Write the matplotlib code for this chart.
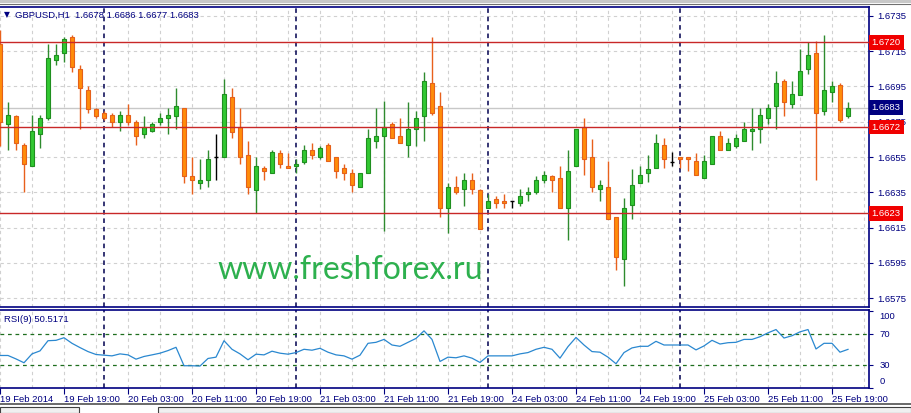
import numpy as np
import matplotlib.pyplot as plt
from matplotlib.patches import Rectangle
from matplotlib.lines import Line2D
from matplotlib.transforms import blended_transform_factory

plt.rcParams['font.family'] = ['Liberation Sans', 'DejaVu Sans']

# GBPUSD H1, 19 Feb 2014 11:00 .. 25 Feb 2014 21:00 (one entry per hour bar)
opens = [1.6719, 1.6674, 1.6678, 1.6662, 1.6650, 1.6668, 1.6677, 1.6710, 1.6714, 1.6723,
         1.6705, 1.6693, 1.6682, 1.6680, 1.6679, 1.6675, 1.6679, 1.6675, 1.6668, 1.6670,
         1.6675, 1.6677, 1.6678, 1.6683, 1.6644, 1.6640, 1.6642, 1.6655, 1.6655, 1.6689,
         1.6672, 1.6656, 1.6636, 1.6649, 1.6646, 1.6657, 1.6650, 1.6650, 1.6652, 1.6659,
         1.6655, 1.6662, 1.6655, 1.6649, 1.6646, 1.6638, 1.6646, 1.6664, 1.6667, 1.6674,
         1.6667, 1.6662, 1.6671, 1.6678, 1.6697, 1.6684, 1.6626, 1.6638, 1.6637, 1.6642,
         1.6636, 1.6626, 1.6631, 1.6630, 1.6630, 1.6629, 1.6634, 1.6635, 1.6642, 1.6644,
         1.6643, 1.6626, 1.6650, 1.6672, 1.6655, 1.6637, 1.6638, 1.6621, 1.6597, 1.6628,
         1.6640, 1.6646, 1.6649, 1.6662, 1.6652, 1.6655, 1.6655, 1.6653, 1.6643, 1.6651,
         1.6667, 1.6659, 1.6661, 1.6664, 1.6670, 1.6671, 1.6677, 1.6684, 1.6698, 1.6685,
         1.6690, 1.6705, 1.6714, 1.6681, 1.6692, 1.6696, 1.6678]
highs = [1.6727, 1.6686, 1.6679, 1.6663, 1.6679, 1.6679, 1.6719, 1.6719, 1.6723, 1.6724,
         1.6707, 1.6695, 1.6683, 1.6681, 1.6680, 1.6681, 1.6685, 1.6676, 1.6678, 1.6675,
         1.6680, 1.6683, 1.6694, 1.6683, 1.6655, 1.6654, 1.6659, 1.6668, 1.6699, 1.6694,
         1.6683, 1.6664, 1.6655, 1.6650, 1.6659, 1.6659, 1.6657, 1.6654, 1.6662, 1.6663,
         1.6661, 1.6663, 1.6655, 1.6651, 1.6648, 1.6646, 1.6671, 1.6683, 1.6687, 1.6675,
         1.6677, 1.6686, 1.6681, 1.6703, 1.6723, 1.6692, 1.6640, 1.6644, 1.6646, 1.6646,
         1.6637, 1.6634, 1.6633, 1.6634, 1.6630, 1.6637, 1.6638, 1.6644, 1.6647, 1.6645,
         1.6650, 1.6659, 1.6671, 1.6677, 1.6665, 1.6642, 1.6653, 1.6621, 1.6632, 1.6648,
         1.6650, 1.6656, 1.6668, 1.6666, 1.6658, 1.6655, 1.6655, 1.6657, 1.6656, 1.6667,
         1.6670, 1.6666, 1.6668, 1.6675, 1.6683, 1.6683, 1.6685, 1.6704, 1.6699, 1.6698,
         1.6716, 1.6720, 1.6721, 1.6724, 1.6698, 1.6697, 1.6686]
lows = [1.6661, 1.6659, 1.6659, 1.6635, 1.6650, 1.6660, 1.6676, 1.6707, 1.6709, 1.6703,
        1.6671, 1.6680, 1.6677, 1.6676, 1.6672, 1.6670, 1.6673, 1.6662, 1.6666, 1.6669,
        1.6673, 1.6668, 1.6671, 1.6640, 1.6634, 1.6637, 1.6638, 1.6642, 1.6655, 1.6666,
        1.6651, 1.6634, 1.6623, 1.6642, 1.6646, 1.6649, 1.6649, 1.6646, 1.6651, 1.6654,
        1.6654, 1.6653, 1.6643, 1.6642, 1.6635, 1.6638, 1.6646, 1.6660, 1.6613, 1.6666,
        1.6663, 1.6655, 1.6661, 1.6664, 1.6679, 1.6621, 1.6612, 1.6634, 1.6627, 1.6634,
        1.6614, 1.6626, 1.6626, 1.6626, 1.6626, 1.6627, 1.6630, 1.6634, 1.6640, 1.6635,
        1.6626, 1.6608, 1.6650, 1.6645, 1.6635, 1.6630, 1.6620, 1.6591, 1.6582, 1.6620,
        1.6640, 1.6641, 1.6649, 1.6649, 1.6650, 1.6649, 1.6647, 1.6645, 1.6643, 1.6651,
        1.6659, 1.6659, 1.6660, 1.6664, 1.6659, 1.6663, 1.6674, 1.6671, 1.6678, 1.6683,
        1.6690, 1.6702, 1.6642, 1.6679, 1.6686, 1.6675, 1.6677]
closes = [1.6675, 1.6679, 1.6663, 1.6651, 1.6670, 1.6677, 1.6711, 1.6713, 1.6722, 1.6706,
          1.6694, 1.6682, 1.6678, 1.6677, 1.6675, 1.6679, 1.6675, 1.6667, 1.6672, 1.6674,
          1.6677, 1.6679, 1.6684, 1.6644, 1.6642, 1.6642, 1.6654, 1.6655, 1.6691, 1.6669,
          1.6655, 1.6638, 1.6650, 1.6647, 1.6658, 1.6651, 1.6649, 1.6651, 1.6659, 1.6656,
          1.6660, 1.6653, 1.6647, 1.6646, 1.6639, 1.6646, 1.6666, 1.6667, 1.6672, 1.6666,
          1.6663, 1.6671, 1.6677, 1.6698, 1.6680, 1.6626, 1.6638, 1.6635, 1.6642, 1.6637,
          1.6614, 1.6630, 1.6629, 1.6629, 1.6630, 1.6633, 1.6635, 1.6642, 1.6645, 1.6642,
          1.6626, 1.6647, 1.6671, 1.6654, 1.6638, 1.6639, 1.6620, 1.6598, 1.6626, 1.6639,
          1.6645, 1.6648, 1.6663, 1.6654, 1.6652, 1.6654, 1.6654, 1.6645, 1.6653, 1.6667,
          1.6659, 1.6663, 1.6666, 1.6671, 1.6671, 1.6679, 1.6683, 1.6697, 1.6686, 1.6691,
          1.6704, 1.6713, 1.6680, 1.6693, 1.6695, 1.6676, 1.6683]
rsi = [42.5, 42.5, 38.0, 33.0, 44.6, 48.5, 61.8, 62.3, 65.7, 58.4,
       52.8, 47.6, 43.8, 42.9, 42.0, 44.6, 43.3, 37.7, 41.2, 43.3,
       45.5, 48.9, 53.2, 29.1, 29.1, 28.7, 38.6, 40.3, 61.8, 50.6,
       44.6, 36.9, 44.2, 43.3, 48.1, 45.5, 44.2, 46.3, 50.6, 49.4,
       51.9, 46.8, 43.3, 42.0, 37.7, 42.9, 58.4, 59.7, 63.5, 56.2,
       54.5, 59.7, 64.8, 74.7, 63.5, 34.7, 40.3, 39.5, 42.0, 39.0,
       33.4, 42.0, 42.0, 42.0, 42.0, 44.6, 46.3, 50.6, 53.2, 50.6,
       39.0, 54.1, 66.1, 56.2, 47.6, 46.8, 40.3, 31.7, 46.3, 52.4,
       54.5, 54.5, 61.0, 56.2, 56.2, 56.2, 56.2, 49.8, 55.0, 62.3,
       57.5, 59.2, 59.7, 63.5, 63.5, 67.0, 72.1, 76.4, 65.3, 68.3,
       73.4, 76.4, 51.0, 58.4, 58.4, 46.8, 50.5]

date_ticks = [0, 8, 16, 24, 32, 40, 48, 56, 64, 72, 80, 88, 96, 104]
date_labels = ["19 Feb 2014", "19 Feb 19:00", "20 Feb 03:00", "20 Feb 11:00",
               "20 Feb 19:00", "21 Feb 03:00", "21 Feb 11:00", "21 Feb 19:00",
               "24 Feb 03:00", "24 Feb 11:00", "24 Feb 19:00", "25 Feb 03:00",
               "25 Feb 11:00", "25 Feb 19:00"]
day_starts = [13, 37, 61, 85]
price_ticks = [1.6575, 1.6595, 1.6615, 1.6635, 1.6655, 1.6675, 1.6695, 1.6715, 1.6735]
levels = [1.6720, 1.6672, 1.6623]
last_price = 1.6683
rsi_levels = [70, 30]

NAVY = "#000080"
FS = 6.8
W, H = 911, 413

def fx(x):
    return x / W

def fy(y):
    return 1 - y / H

fig = plt.figure(figsize=(W / 100, H / 100), dpi=100)
fig.patch.set_facecolor("white")

ax = fig.add_axes([0, fy(307), fx(869), (307 - 7) / H])
ax_r = fig.add_axes([0, fy(388), fx(869), (388 - 309.5) / H])

n = len(closes)
idx = np.arange(n)
o = np.array(opens); h = np.array(highs); l = np.array(lows); c = np.array(closes)

up = c > o
down = c < o
doji = c == o

# wicks
ax.vlines(idx[up], l[up], h[up], color="#2E8B2E", lw=1.0, zorder=3)
ax.vlines(idx[down], l[down], h[down], color="#E8601C", lw=1.0, zorder=3)
ax.vlines(idx[doji], l[doji], h[doji], color="black", lw=1.0, zorder=3)
ax.hlines(c[doji], idx[doji] - 0.3, idx[doji] + 0.3, color="black", lw=1.0, zorder=4)

# bodies
bw = 0.6
ax.bar(idx[up], np.maximum(c[up] - o[up], 0.00006), bottom=o[up], width=bw,
       color="#32C832", edgecolor="#1F8F1F", lw=0.8, zorder=4)
ax.bar(idx[down], np.maximum(o[down] - c[down], 0.00006), bottom=c[down], width=bw,
       color="#FF8C0A", edgecolor="#E5601A", lw=0.8, zorder=4)

ax.set_xlim(0, 869 / 8)
ax.set_ylim(1.65699, 1.67401)

grid_kw = dict(color="#D0D0D0", lw=0.8, ls=(0, (3, 3)), zorder=0)
for gx in range(0, 109, 4):
    ax.axvline(gx, **grid_kw)
    ax_r.axvline(gx, **grid_kw)
for p in price_ticks:
    ax.axhline(p, **grid_kw)

for d in day_starts:
    ax.axvline(d, color="#000050", lw=1.1, ls=(0, (3, 2.5)), zorder=2)
    ax_r.axvline(d, color="#000050", lw=1.1, ls=(0, (3, 2.5)), zorder=2)

for lv in levels:
    ax.axhline(lv, color="#C82828", lw=1.0, zorder=5)
ax.axhline(last_price, color="#C8C8C8", lw=1.0, zorder=1)

ax.yaxis.tick_right()
ax.set_yticks(price_ticks)
ax.set_yticklabels([f"{p:.4f}" for p in price_ticks])
ax.tick_params(axis="y", colors=NAVY, labelcolor=NAVY, labelsize=FS, length=3, width=0.8, pad=3)
ax.set_xticks([])

trans = blended_transform_factory(ax.transAxes, ax.transData)
for lv in levels:
    ax.text(1.003, lv, f"{lv:.4f}", transform=trans, ha="left", va="center",
            fontsize=FS, color="white", zorder=10, clip_on=False,
            bbox=dict(boxstyle="square,pad=0.3", fc="#F00000", ec="none"))
ax.text(1.003, last_price, f"{last_price:.4f}", transform=trans, ha="left", va="center",
        fontsize=FS, color="white", zorder=10, clip_on=False,
        bbox=dict(boxstyle="square,pad=0.3", fc=NAVY, ec="none"))

ax.spines["left"].set_visible(False)
for sp in ["top", "right", "bottom"]:
    ax.spines[sp].set_color(NAVY)
    ax.spines[sp].set_linewidth(1.2)

# RSI panel
ax_r.plot(idx, rsi, color="#2A88D0", lw=0.9, zorder=3)
for lv in rsi_levels:
    ax_r.axhline(lv, color="#1E6E1E", lw=0.9, ls=(0, (3, 3)), zorder=2)
ax_r.set_xlim(0, 869 / 8)
ax_r.set_ylim(0, 102.6)
ax_r.yaxis.tick_right()
ax_r.set_yticks([100, 70, 30, 0])
ax_r.set_yticklabels([])
ax_r.tick_params(axis="y", colors=NAVY, length=3, width=0.8)
trans_r = blended_transform_factory(ax_r.transAxes, ax_r.transData)
for v, yv in zip(["100", "70", "30", "0"], [93.5, 70, 30, 8]):
    ax_r.text(1.012, yv, v, transform=trans_r, ha="left", va="center",
              fontsize=FS, color=NAVY, clip_on=False)
ax_r.set_xticks(date_ticks)
ax_r.set_xticklabels(date_labels, ha="left")
ax_r.tick_params(axis="x", colors=NAVY, labelcolor=NAVY, labelsize=FS, length=4,
                 width=0.8, pad=1)
for lbl in ax_r.get_xticklabels():
    lbl.set_horizontalalignment("left")
ax_r.spines["left"].set_visible(False)
for sp in ["top", "right", "bottom"]:
    ax_r.spines[sp].set_color(NAVY)
    ax_r.spines[sp].set_linewidth(1.2)

# header texts
fig.text(fx(4), fy(15), "\u25BC", fontsize=5.5, color=NAVY, ha="left", va="center",
         family="DejaVu Sans")
fig.text(fx(15), fy(15), "GBPUSD,H1  1.6678 1.6686 1.6677 1.6683", fontsize=FS,
         color=NAVY, ha="left", va="center")
fig.text(fx(4), fy(319), "RSI(9) 50.5171", fontsize=FS, color=NAVY, ha="left", va="center")

# watermark
fig.text(fx(350), fy(279), "www.freshforex.ru", fontsize=23, color="#2DB04E",
         family="Lato", ha="center", va="baseline", zorder=20)

# window chrome
fig.patches.append(Rectangle((0, fy(3)), 1, 3 / H, transform=fig.transFigure,
                             fc="#C8C8C8", ec="none"))
fig.lines.append(Line2D([0, 1], [fy(3.5), fy(3.5)], transform=fig.transFigure,
                        color="#707070", lw=0.8))
fig.lines.append(Line2D([0, 1], [fy(404), fy(404)], transform=fig.transFigure,
                        color="#505050", lw=1.2))
for x0, x1 in [(0, 79), (158, 911)]:
    fig.patches.append(Rectangle((fx(x0), 0), fx(x1 - x0), fy(407), transform=fig.transFigure,
                                 fc="#F0F0F0", ec="#404040", lw=0.8))

fig.savefig("out.png", dpi=100)
